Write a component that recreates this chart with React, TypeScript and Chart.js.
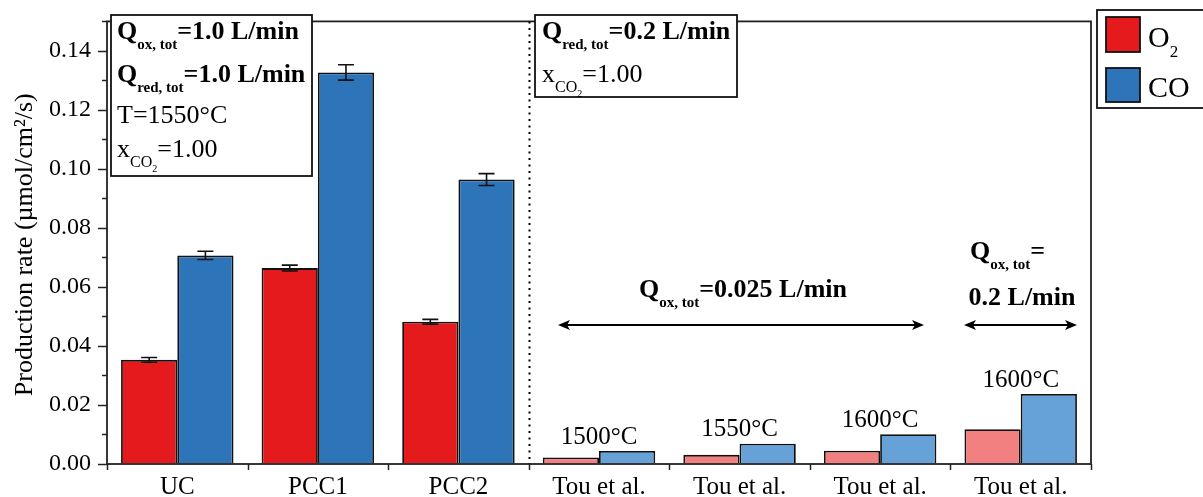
import React, { useEffect, useRef } from "react";
import { Chart, registerables } from "chart.js";

Chart.register(...registerables);

const categories = ["UC", "PCC1", "PCC2", "Tou et al.", "Tou et al.", "Tou et al.", "Tou et al."];
const o2Values = [0.0353, 0.0664, 0.0482, 0.0022, 0.0031, 0.0045, 0.0118];
const coValues = [0.0707, 0.1327, 0.0964, 0.0044, 0.0069, 0.0101, 0.0237];
const o2Errors = [0.0008, 0.001, 0.0008, 0, 0, 0, 0];
const coErrors = [0.0014, 0.0026, 0.002, 0, 0, 0, 0];
const tempLabels = ["", "", "", "1500°C", "1550°C", "1600°C", "1600°C"];
const yTickValues = [0, 0.02, 0.04, 0.06, 0.08, 0.1, 0.12, 0.14];
const yTitle = "Production rate (µmol/cm²/s)";

const RED = "#e41a1c";
const BLUE = "#2e74b8";
const LRED = "#f38080";
const LBLUE = "#66a1d8";
const o2Colors = [RED, RED, RED, LRED, LRED, LRED, LRED];
const coColors = [BLUE, BLUE, BLUE, LBLUE, LBLUE, LBLUE, LBLUE];

const FAMILY = '"Liberation Serif", "Times New Roman", serif';

type Seg = { t: string; size: number; bold?: boolean; dy?: number };

function drawRich(ctx: CanvasRenderingContext2D, x: number, y: number, segs: Seg[], align: "left" | "center" = "left") {
  ctx.save();
  ctx.textAlign = "left";
  ctx.textBaseline = "alphabetic";
  ctx.fillStyle = "#000";
  const font = (s: Seg) => `${s.bold ? "bold " : ""}${s.size}px ${FAMILY}`;
  let total = 0;
  for (const s of segs) {
    ctx.font = font(s);
    total += ctx.measureText(s.t).width;
  }
  let cx = align === "center" ? x - total / 2 : x;
  for (const s of segs) {
    ctx.font = font(s);
    ctx.fillText(s.t, cx, y + (s.dy || 0));
    cx += ctx.measureText(s.t).width;
  }
  ctx.restore();
}

function arrow(ctx: CanvasRenderingContext2D, x1: number, x2: number, y: number) {
  ctx.save();
  ctx.strokeStyle = "#000";
  ctx.fillStyle = "#000";
  ctx.lineWidth = 2;
  ctx.beginPath();
  ctx.moveTo(x1 + 6, y);
  ctx.lineTo(x2 - 6, y);
  ctx.stroke();
  const head = (tx: number, dir: number) => {
    ctx.beginPath();
    ctx.moveTo(tx, y);
    ctx.lineTo(tx - dir * 12, y - 5);
    ctx.lineTo(tx - dir * 9, y);
    ctx.lineTo(tx - dir * 12, y + 5);
    ctx.closePath();
    ctx.fill();
  };
  head(x1, -1);
  head(x2, 1);
  ctx.restore();
}

const decorPlugin = {
  id: "decor",
  afterDatasetsDraw(chart: any) {
    const ctx: CanvasRenderingContext2D = chart.ctx;
    const y = chart.scales.y;
    const errSets = [o2Errors, coErrors];
    [0, 1].forEach((di) => {
      const meta = chart.getDatasetMeta(di);
      meta.data.forEach((bar: any, i: number) => {
        const e = errSets[di][i];
        if (!e) return;
        const v = (di === 0 ? o2Values : coValues)[i];
        const yt = y.getPixelForValue(v + e);
        const yb = y.getPixelForValue(v - e);
        ctx.save();
        ctx.strokeStyle = "#111";
        ctx.lineWidth = 1.6;
        ctx.beginPath();
        ctx.moveTo(bar.x, yt);
        ctx.lineTo(bar.x, yb);
        ctx.moveTo(bar.x - 8, yt);
        ctx.lineTo(bar.x + 8, yt);
        ctx.moveTo(bar.x - 8, yb);
        ctx.lineTo(bar.x + 8, yb);
        ctx.stroke();
        ctx.restore();
      });
    });
    const x = chart.scales.x;
    tempLabels.forEach((lab, i) => {
      if (!lab) return;
      const cx = x.getPixelForValue(i);
      const top = y.getPixelForValue(coValues[i]);
      ctx.save();
      ctx.font = `25px ${FAMILY}`;
      ctx.fillStyle = "#000";
      ctx.textAlign = "center";
      ctx.textBaseline = "alphabetic";
      ctx.fillText(lab, cx, top - 7.5);
      ctx.restore();
    });
  },
  afterDraw(chart: any) {
    const ctx: CanvasRenderingContext2D = chart.ctx;
    const a = chart.chartArea;
    const y = chart.scales.y;
    ctx.save();
    // y axis title
    ctx.save();
    ctx.translate(25, (a.top + a.bottom) / 2 + 2);
    ctx.rotate(-Math.PI / 2);
    ctx.font = `26px ${FAMILY}`;
    ctx.fillStyle = "#000";
    ctx.textAlign = "center";
    ctx.textBaseline = "middle";
    ctx.fillText(yTitle, 0, 0);
    ctx.restore();
    // y ticks (major + minor)
    ctx.strokeStyle = "#222";
    ctx.lineWidth = 1.5;
    for (let i = 0; i <= 15; i++) {
      const py = Math.round(y.getPixelForValue(i * 0.01)) + 0.5;
      const len = i % 2 === 0 ? 9 : 5;
      ctx.beginPath();
      ctx.moveTo(a.left - len, py);
      ctx.lineTo(a.left, py);
      ctx.stroke();
    }
    const n = categories.length;
    const w = (a.right - a.left) / n;
    for (let i = 0; i <= n; i++) {
      const px = Math.round(a.left + i * w) + 0.5;
      ctx.beginPath();
      ctx.moveTo(px, a.bottom);
      ctx.lineTo(px, a.bottom + 6);
      ctx.stroke();
    }
    ctx.lineWidth = 1.8;
    ctx.strokeStyle = "#222";
    ctx.strokeRect(a.left, a.top, a.right - a.left, a.bottom - a.top);
    const sx = Math.round(a.left + 3 * w) + 0.5;
    ctx.setLineDash([2, 4.5]);
    ctx.lineWidth = 2;
    ctx.strokeStyle = "#000";
    ctx.beginPath();
    ctx.moveTo(sx, a.top);
    ctx.lineTo(sx, a.bottom);
    ctx.stroke();
    ctx.setLineDash([]);

    ctx.fillStyle = "#fff";
    ctx.lineWidth = 1.8;
    ctx.strokeStyle = "#111";
    ctx.fillRect(111, 15, 201, 161);
    ctx.strokeRect(111, 15, 201, 161);
    ctx.fillRect(535, 15, 202, 82);
    ctx.strokeRect(535, 15, 202, 82);
    ctx.fillRect(1097, 10, 120, 98);
    ctx.strokeRect(1097, 10, 120, 98);
    ctx.restore();

    drawRich(ctx, 117, 39, [
      { t: "Q", size: 26, bold: true },
      { t: "ox, tot", size: 15, bold: true, dy: 10 },
      { t: "=1.0 L/min", size: 26, bold: true },
    ]);
    drawRich(ctx, 117, 82, [
      { t: "Q", size: 26, bold: true },
      { t: "red, tot", size: 15, bold: true, dy: 10 },
      { t: "=1.0 L/min", size: 26, bold: true },
    ]);
    drawRich(ctx, 117, 123, [{ t: "T=1550°C", size: 26 }]);
    drawRich(ctx, 117, 157, [
      { t: "x", size: 26 },
      { t: "CO", size: 16, dy: 10 },
      { t: "2", size: 10, dy: 15 },
      { t: "=1.00", size: 26 },
    ]);

    drawRich(ctx, 542, 39, [
      { t: "Q", size: 26, bold: true },
      { t: "red, tot", size: 15, bold: true, dy: 10 },
      { t: "=0.2 L/min", size: 26, bold: true },
    ]);
    drawRich(ctx, 542, 82, [
      { t: "x", size: 26 },
      { t: "CO", size: 16, dy: 10 },
      { t: "2", size: 10, dy: 15 },
      { t: "=1.00", size: 26 },
    ]);

    drawRich(ctx, 743, 297, [
      { t: "Q", size: 26, bold: true },
      { t: "ox, tot", size: 15, bold: true, dy: 10 },
      { t: "=0.025 L/min", size: 26, bold: true },
    ], "center");
    arrow(ctx, 558, 924, 325);

    drawRich(ctx, 970, 259, [
      { t: "Q", size: 26, bold: true },
      { t: "ox, tot", size: 15, bold: true, dy: 10 },
      { t: "=", size: 26, bold: true },
    ]);
    drawRich(ctx, 1022, 305, [{ t: "0.2 L/min", size: 26, bold: true }], "center");
    arrow(ctx, 964, 1077, 325);

    ctx.save();
    ctx.lineWidth = 1.8;
    ctx.strokeStyle = "#111";
    ctx.fillStyle = RED;
    ctx.fillRect(1106, 17, 34, 35);
    ctx.strokeRect(1106, 17, 34, 35);
    ctx.fillStyle = BLUE;
    ctx.fillRect(1106, 68, 34, 34);
    ctx.strokeRect(1106, 68, 34, 34);
    ctx.restore();
    drawRich(ctx, 1148, 47, [
      { t: "O", size: 30 },
      { t: "2", size: 17, dy: 10 },
    ]);
    drawRich(ctx, 1148, 97, [{ t: "CO", size: 30 }]);
  },
};

export default function App() {
  const ref = useRef<HTMLCanvasElement>(null);
  useEffect(() => {
    if (!ref.current) return;
    Chart.defaults.font.family = FAMILY;
    Chart.defaults.color = "#000";
    const chart = new Chart(ref.current, {
      type: "bar",
      data: {
        labels: categories,
        datasets: [
          {
            label: "O2",
            data: o2Values,
            backgroundColor: o2Colors,
            borderColor: "#111",
            borderWidth: 1.8,
            categoryPercentage: 0.8,
            barPercentage: 1.0,
          },
          {
            label: "CO",
            data: coValues,
            backgroundColor: coColors,
            borderColor: "#111",
            borderWidth: 1.8,
            categoryPercentage: 0.8,
            barPercentage: 1.0,
          },
        ],
      },
      options: {
        responsive: false,
        animation: false,
        layout: { padding: { left: 0, top: 10, right: 112, bottom: 0 } },
        plugins: { legend: { display: false }, tooltip: { enabled: false }, title: { display: false } },
        scales: {
          x: {
            grid: { display: true, drawOnChartArea: false, color: "transparent", tickLength: 6 },
            border: { display: false },
            ticks: { font: { size: 25 }, color: "#000", autoSkip: false, maxRotation: 0, padding: 2 },
            afterFit: (s: any) => {
              s.height = 33;
            },
          },
          y: {
            min: 0,
            max: 0.15,
            grid: { display: true, drawOnChartArea: false, color: "transparent", tickLength: 9 },
            border: { display: false },
            afterBuildTicks: (s: any) => {
              s.ticks = yTickValues.map((v) => ({ value: v }));
            },
            ticks: {
              font: { size: 24 },
              color: "#000",
              padding: 7,
              callback: (v: any) => Number(v).toFixed(2),
            },
            afterFit: (s: any) => {
              s.width = 107;
            },
          },
        },
      },
      plugins: [decorPlugin],
    });
    return () => chart.destroy();
  }, []);
  return (
    <div style={{ position: "fixed", left: 0, top: 0, width: 1203, height: 497, background: "#fff" }}>
      <canvas ref={ref} width={1203} height={497} style={{ width: 1203, height: 497 }} />
    </div>
  );
}
